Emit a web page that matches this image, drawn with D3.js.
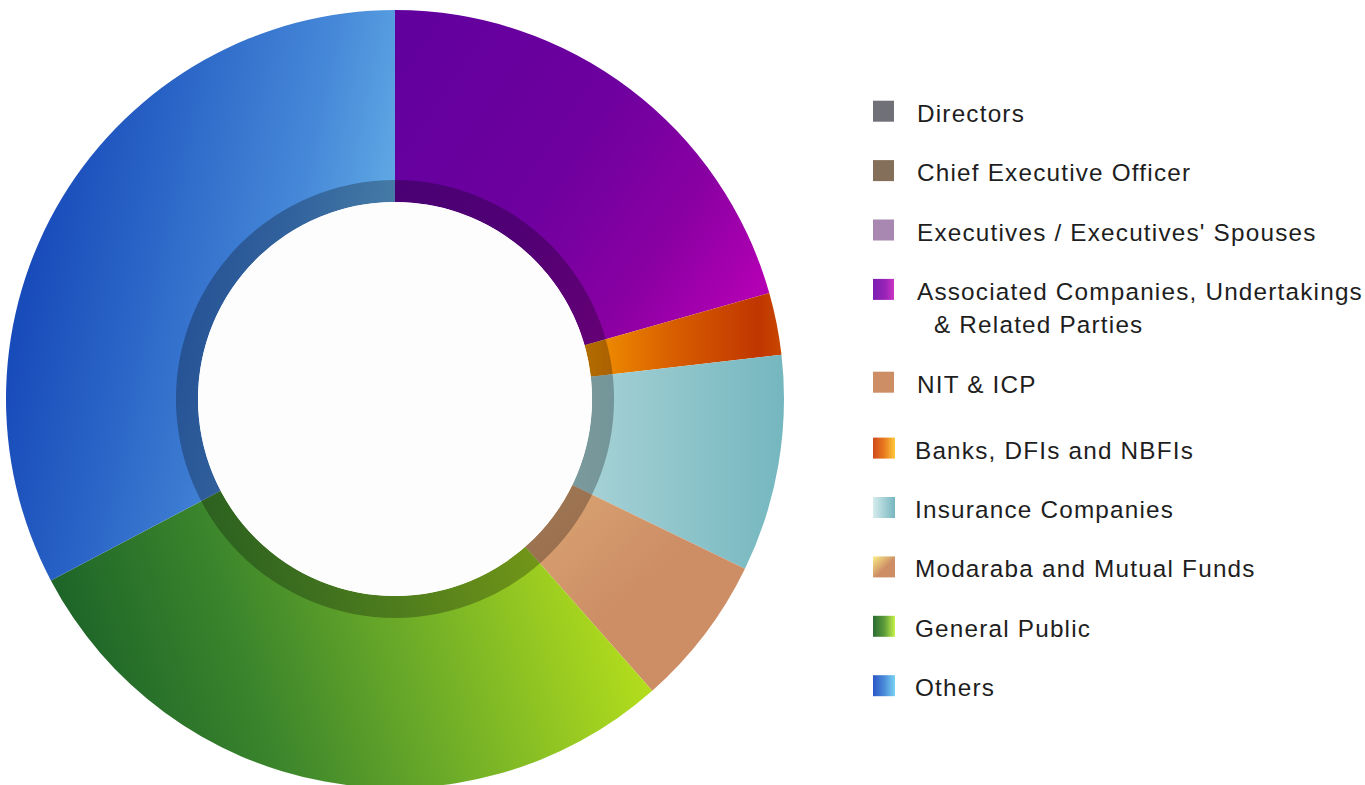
<!DOCTYPE html>
<html>
<head>
<meta charset="utf-8">
<script src="https://cdn.jsdelivr.net/npm/d3@7"></script>
<style>
  html, body { margin: 0; padding: 0; background: #ffffff; }
  svg { display: block; }
</style>
</head>
<body>
<svg id="chart" width="1365" height="785"></svg>
<script>
// ---------------- data ----------------
const categories = [
  "Directors",
  "Chief Executive Officer",
  "Executives / Executives' Spouses",
  "Associated Companies, Undertakings & Related Parties",
  "NIT & ICP",
  "Banks, DFIs and NBFIs",
  "Insurance Companies",
  "Modaraba and Mutual Funds",
  "General Public",
  "Others"
];
const shares = [0, 0, 0, 20.61, 0, 2.58, 9.00, 6.31, 28.78, 32.72];
const legendLines = [
  ["Directors"],
  ["Chief Executive Officer"],
  ["Executives / Executives' Spouses"],
  ["Associated Companies, Undertakings", "& Related Parties"],
  ["NIT & ICP"],
  ["Banks, DFIs and NBFIs"],
  ["Insurance Companies"],
  ["Modaraba and Mutual Funds"],
  ["General Public"],
  ["Others"]
];

// ---------------- styles ----------------
// slice gradients: [x1,y1,x2,y2] in bounding-box units + stops
const sliceGrad = [
  { v: [0,0,1,0], stops: [[0,"#707078"],[1,"#707078"]] },
  { v: [0,0,1,0], stops: [[0,"#84705a"],[1,"#84705a"]] },
  { v: [0,0,1,0], stops: [[0,"#a888b0"],[1,"#a888b0"]] },
  { v: [0,0.2,1,0.8], stops: [[0,"#62009e"],[0.45,"#6e009f"],[0.75,"#8a00a2"],[1,"#b400b4"]] },
  { v: [0,0,1,0], stops: [[0,"#cd8e66"],[1,"#cd8e66"]] },
  { v: [0,0,1,0], stops: [[0,"#f39600"],[0.45,"#d85e00"],[0.88,"#c03600"],[1,"#c84600"]] },
  { v: [0,0,1,0], stops: [[0,"#a9d3d7"],[1,"#75b7bf"]] },
  { v: [0,0,0.5,0.5], stops: [[0,"#dba673"],[1,"#cd8e66"]] },
  { v: [0,0.5,1,0.35], stops: [[0,"#1a6128"],[0.3,"#3a842c"],[0.6,"#70ae28"],[1,"#bde41a"]] },
  { v: [0,0.3,1,0.6], stops: [[0,"#1242b6"],[0.35,"#2a64c6"],[0.7,"#4688d8"],[1,"#68b4e8"]] }
];
const legendGrad = [
  { v: [0,0,1,0], stops: [[0,"#707078"],[1,"#707078"]] },
  { v: [0,0,1,0], stops: [[0,"#84705a"],[1,"#84705a"]] },
  { v: [0,0,1,0], stops: [[0,"#a888b0"],[1,"#a888b0"]] },
  { v: [0,0,1,0], stops: [[0,"#7a1eb0"],[0.6,"#9a24b8"],[1,"#cc34c4"]] },
  { v: [0,0,1,0], stops: [[0,"#cd8e66"],[1,"#cd8e66"]] },
  { v: [0,0,1,0], stops: [[0,"#cf4a1c"],[0.5,"#e87a20"],[1,"#ffc83a"]] },
  { v: [0,0,1,0], stops: [[0,"#d6eced"],[1,"#76b6bf"]] },
  { v: [0,0,1,1], stops: [[0,"#faee86"],[0.55,"#cd8e66"],[1,"#cd8e66"]] },
  { v: [0,0,1,0], stops: [[0,"#2c6c34"],[0.5,"#5a9a38"],[1,"#c6f24a"]] },
  { v: [0,0,1,0], stops: [[0,"#2a58c6"],[0.5,"#4a8ad8"],[1,"#7ad2f4"]] }
];

// ---------------- layout ----------------
const cx = 395, cy = 399;
const outerR = 389, innerR = 197, bandR = 219;

const svg = d3.select("#chart");
const defs = svg.append("defs");

function addGrad(id, g) {
  const lg = defs.append("linearGradient")
    .attr("id", id)
    .attr("x1", g.v[0]).attr("y1", g.v[1])
    .attr("x2", g.v[2]).attr("y2", g.v[3]);
  g.stops.forEach(s => lg.append("stop").attr("offset", s[0]).attr("stop-color", s[1]));
}
sliceGrad.forEach((g, i) => addGrad("sg" + i, g));
legendGrad.forEach((g, i) => addGrad("lg" + i, g));

const pieData = categories.map((c, i) => ({ name: c, value: shares[i], idx: i }));
const pie = d3.pie().sort(null).value(d => d.value);
const arc = d3.arc().innerRadius(innerR).outerRadius(outerR);

const g = svg.append("g").attr("transform", `translate(${cx},${cy})`);
g.selectAll("path.slice")
  .data(pie(pieData).filter(d => d.data.value > 0))
  .join("path")
  .attr("class", "slice")
  .attr("d", arc)
  .attr("fill", d => `url(#sg${d.data.idx})`);

// inner shading band
g.append("path")
  .attr("d", d3.arc().innerRadius(innerR).outerRadius(bandR).startAngle(0).endAngle(2 * Math.PI)())
  .attr("fill", "#000")
  .attr("fill-opacity", 0.27);

// hole
g.append("circle").attr("r", innerR).attr("fill", "#fdfdfd");

// ---------------- legend ----------------
const rowGap = 59.4, lineH = 33.4;
let y = 121.7;
const legend = svg.append("g");
categories.forEach((c, i) => {
  const lines = legendLines[i];
  const textX = i <= 4 ? 917 : 915;
  const sqW = i <= 4 ? 21 : 22;
  legend.append("rect")
    .attr("x", 873).attr("y", y - 21)
    .attr("width", sqW).attr("height", 21)
    .attr("fill", `url(#lg${i})`);
  const t = legend.append("text")
    .attr("font-family", "'Liberation Sans', Arial, Helvetica, sans-serif")
    .attr("font-size", 24.3)
    .attr("letter-spacing", "1.2px")
    .attr("fill", "#1e1e1e");
  lines.forEach((ln, k) => {
    t.append("tspan")
      .attr("x", textX + (k > 0 ? 17 : 0))
      .attr("y", y + k * lineH)
      .text(ln);
  });
  y += rowGap + (lines.length - 1) * lineH + (i === 4 ? 6.5 : 0);
});
</script>
</body>
</html>
